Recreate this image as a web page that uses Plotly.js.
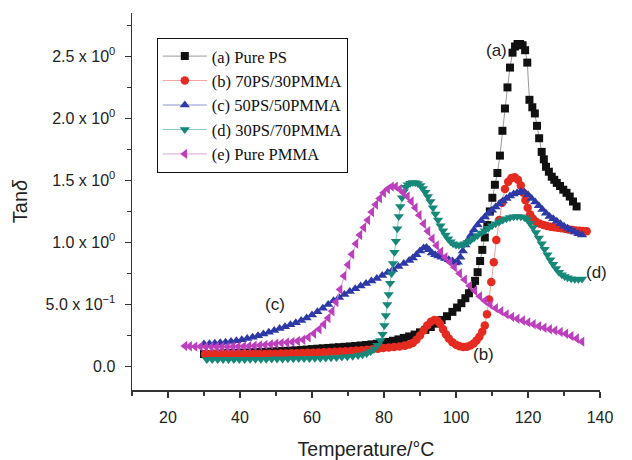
<!DOCTYPE html>
<html>
<head>
<meta charset="utf-8">
<script src="https://cdn.plot.ly/plotly-3.0.1.min.js"></script>
<style>html,body{margin:0;padding:0;background:#fff;}#chart{width:632px;height:460px;}</style>
</head>
<body>
<div id="chart"></div>
<script>
// Series names
const seriesNames = ["(a) Pure PS", "(b) 70PS/30PMMA", "(c) 50PS/50PMMA", "(d) 30PS/70PMMA", "(e) Pure PMMA"];

// [temperature °C, tan delta]
const purePS = [[30,0.10],[31.5,0.10],[33,0.103],[34.5,0.105],[36,0.107],[37.5,0.108],[39,0.11],[40.5,0.112],[42,0.113],[43.5,0.115],[45,0.117],[46.5,0.118],[48,0.12],[49.5,0.122],[51,0.124],[52.5,0.126],[54,0.128],[55.5,0.13],[57,0.133],[58.5,0.136],[60,0.14],[61.5,0.143],[63,0.146],[64.5,0.149],[66,0.152],[67.5,0.155],[69,0.158],[70.5,0.161],[72,0.165],[73.5,0.169],[75,0.173],[76.5,0.178],[78,0.183],[79.5,0.19],[81,0.198],[82.5,0.207],[84,0.218],[85.5,0.23],[87,0.242],[88.5,0.257],[90,0.275],[91.5,0.295],[93,0.318],[94.5,0.345],[96,0.375],[97.5,0.405],[99,0.44],[100.3,0.475],[101.5,0.51],[102.6,0.55],[103.6,0.59],[104.5,0.635],[105.3,0.69],[106,0.76],[106.7,0.85],[107.3,0.94],[108,1.04],[108.7,1.14],[109.4,1.25],[110.1,1.36],[110.8,1.465],[111.5,1.56],[112.2,1.70],[112.9,1.9],[113.6,2.08],[114.3,2.25],[115,2.41],[115.7,2.53],[116.4,2.58],[117.1,2.6],[117.8,2.6],[118.5,2.59],[119.2,2.55],[119.8,2.45],[120.4,2.15],[121.2,2.09],[121.9,2.04],[122.5,1.94],[123.1,1.84],[123.8,1.73],[124.4,1.67],[125,1.61],[125.8,1.57],[126.6,1.53],[127.3,1.505],[128,1.48],[128.9,1.455],[129.8,1.425],[130.7,1.40],[131.6,1.37],[132.5,1.33],[133.5,1.29]];

const ps70pmma30 = [[30.3,0.10],[31.8,0.10],[33.3,0.10],[34.8,0.10],[36.3,0.10],[37.8,0.10],[39.3,0.10],[40.8,0.10],[42.3,0.10],[43.8,0.10],[45.3,0.10],[46.8,0.101],[48.3,0.102],[49.8,0.103],[51.3,0.104],[52.8,0.105],[54.3,0.106],[55.8,0.107],[57.3,0.108],[58.8,0.11],[60.3,0.111],[61.8,0.113],[63.3,0.115],[64.8,0.117],[66.3,0.119],[67.8,0.121],[69.3,0.123],[70.8,0.125],[72.3,0.128],[73.8,0.131],[75.3,0.135],[76.8,0.139],[78.3,0.143],[79.8,0.148],[81.3,0.152],[82.8,0.156],[84.3,0.16],[85.8,0.166],[87,0.176],[88,0.19],[89,0.215],[90,0.25],[91,0.29],[92,0.33],[93,0.36],[94,0.375],[94.8,0.37],[95.6,0.345],[96.4,0.30],[97.2,0.26],[98,0.225],[99,0.195],[100,0.175],[101,0.162],[102,0.157],[103,0.158],[104,0.168],[104.9,0.185],[105.7,0.21],[106.5,0.24],[107.3,0.28],[108,0.33],[108.6,0.42],[109.2,0.54],[109.8,0.68],[110.5,0.84],[111.2,1.02],[112,1.18],[112.8,1.32],[113.6,1.43],[114.5,1.49],[115.4,1.52],[116.3,1.525],[117.2,1.505],[118,1.46],[118.7,1.40],[119.3,1.34],[119.9,1.28],[120.6,1.225],[121.4,1.19],[122.3,1.165],[123.3,1.15],[124.3,1.14],[125.3,1.133],[126.3,1.127],[127.3,1.122],[128.3,1.118],[129.3,1.114],[130.3,1.11],[131.3,1.105],[132.3,1.10],[133.3,1.097],[134.3,1.094],[135.3,1.092],[136.3,1.09]];

const ps50pmma50 = [[30,0.18],[31.5,0.183],[33,0.187],[34.5,0.191],[36,0.196],[37.5,0.201],[39,0.207],[40.5,0.215],[42,0.225],[43.5,0.236],[45,0.248],[46.5,0.261],[48,0.275],[49.5,0.29],[51,0.305],[52.5,0.32],[54,0.336],[55.5,0.352],[57,0.37],[58.5,0.39],[60,0.415],[61.5,0.44],[63,0.47],[64.5,0.50],[66,0.53],[67.5,0.555],[69,0.58],[70.5,0.605],[72,0.627],[73.5,0.648],[75,0.668],[76.5,0.688],[78,0.71],[79.5,0.733],[81,0.758],[82.5,0.782],[84,0.805],[85.5,0.83],[87,0.855],[88,0.875],[89,0.9],[90,0.93],[91,0.955],[91.8,0.96],[92.5,0.94],[93.3,0.915],[94.2,0.9],[95.1,0.89],[96,0.88],[97,0.87],[98,0.86],[99,0.85],[99.8,0.835],[100.5,0.84],[101.2,0.88],[101.9,0.93],[102.6,0.98],[103.4,1.02],[104.2,1.06],[105,1.10],[106,1.14],[107,1.175],[108,1.205],[109,1.235],[110,1.26],[111,1.285],[112,1.31],[113,1.335],[114,1.355],[115,1.375],[116,1.39],[117,1.40],[118,1.41],[119,1.405],[120,1.385],[121,1.355],[122,1.325],[123,1.295],[124,1.265],[125,1.235],[126,1.21],[127,1.19],[128,1.17],[129,1.15],[130,1.13],[131,1.115],[132,1.10],[133,1.085],[134,1.07],[135,1.06]];

const ps30pmma70 = [[30.8,0.055],[32.3,0.055],[33.8,0.055],[35.3,0.055],[36.8,0.055],[38.3,0.055],[39.8,0.056],[41.3,0.056],[42.8,0.057],[44.3,0.057],[45.8,0.058],[47.3,0.058],[48.8,0.059],[50.3,0.06],[51.8,0.06],[53.3,0.061],[54.8,0.062],[56.3,0.063],[57.8,0.064],[59.3,0.065],[60.8,0.066],[62.3,0.067],[63.8,0.069],[65.3,0.071],[66.8,0.073],[68.3,0.076],[69.8,0.079],[71.3,0.083],[72.8,0.088],[74,0.095],[75.2,0.105],[76.3,0.12],[77.3,0.14],[78.2,0.17],[79,0.21],[79.6,0.26],[80.1,0.33],[80.5,0.41],[80.9,0.50],[81.3,0.58],[81.7,0.67],[82.1,0.75],[82.5,0.83],[82.9,0.92],[83.3,1.01],[83.7,1.11],[84.1,1.21],[84.5,1.29],[85,1.36],[85.5,1.41],[86,1.445],[86.6,1.465],[87.3,1.478],[88,1.483],[88.7,1.482],[89.4,1.475],[90.1,1.46],[90.8,1.435],[91.5,1.405],[92.2,1.37],[92.9,1.33],[93.6,1.28],[94.3,1.23],[95,1.18],[95.7,1.135],[96.4,1.095],[97.1,1.06],[97.8,1.03],[98.5,1.005],[99.2,0.99],[100,0.98],[100.8,0.978],[101.6,0.982],[102.4,0.99],[103.2,1.0],[104,1.015],[105,1.035],[106,1.055],[107,1.075],[108,1.095],[109,1.115],[110,1.135],[111,1.15],[112,1.165],[113,1.18],[114,1.19],[115,1.2],[116,1.207],[117,1.21],[118,1.208],[119,1.2],[119.8,1.185],[120.6,1.155],[121.4,1.12],[122.2,1.08],[123,1.035],[123.8,0.99],[124.6,0.945],[125.4,0.9],[126.2,0.86],[127,0.825],[127.8,0.79],[128.6,0.76],[129.4,0.74],[130.2,0.725],[131,0.715],[132,0.707],[133,0.703],[134,0.703],[135,0.705]];

const purePMMA = [[24.7,0.165],[26,0.163],[27.5,0.16],[29,0.16],[30.5,0.158],[32,0.158],[33.5,0.158],[35,0.158],[36.5,0.158],[38,0.159],[39.5,0.16],[41,0.162],[42.5,0.164],[44,0.167],[45.5,0.17],[47,0.174],[48.5,0.178],[50,0.183],[51.5,0.188],[53,0.193],[54.5,0.198],[56,0.205],[57.5,0.215],[59,0.235],[60.5,0.265],[62,0.30],[63.3,0.34],[64.5,0.39],[65.6,0.445],[66.7,0.52],[67.8,0.62],[68.9,0.73],[70,0.82],[71.1,0.905],[72.2,0.99],[73.3,1.06],[74.4,1.12],[75.5,1.18],[76.6,1.245],[77.7,1.305],[78.8,1.355],[79.9,1.40],[81,1.43],[82.1,1.45],[83.2,1.45],[84.3,1.43],[85.4,1.40],[86.5,1.37],[87.6,1.33],[88.7,1.28],[89.8,1.22],[91,1.15],[92.2,1.09],[93.4,1.03],[94.6,0.975],[95.8,0.925],[97,0.88],[98.3,0.84],[99.6,0.80],[101,0.75],[102.4,0.70],[103.8,0.65],[105.2,0.61],[106.6,0.565],[108,0.53],[109.5,0.50],[111,0.47],[112.5,0.445],[114,0.42],[115.5,0.40],[117,0.385],[118.5,0.37],[120,0.355],[121.5,0.34],[123,0.325],[124.5,0.312],[126,0.30],[127.5,0.29],[129,0.278],[130.5,0.263],[132,0.245],[133.5,0.225],[135,0.20]];

// Axis ticks
const xTickVals = [20, 40, 60, 80, 100, 120, 140];
const yTickVals = [0, 0.5, 1.0, 1.5, 2.0, 2.5];
const yTickText = ["0.0", "5.0 x 10<sup>\u22121</sup>", "1.0 x 10<sup>0</sup>", "1.5 x 10<sup>0</sup>", "2.0 x 10<sup>0</sup>", "2.5 x 10<sup>0</sup>"];

// Curve labels
const labelText = ["(a)", "(b)", "(c)", "(d)", "(e)"];
const labelX = [111.3, 107.6, 49.7, 139.1, 140.6];
const labelY = [2.55, 0.094, 0.50, 0.755, 0.256];

const allData = [purePS, ps70pmma30, ps50pmma50, ps30pmma70, purePMMA];
const markerColors = ["#111111", "#e52a1f", "#2c39a6", "#16887a", "#bd3fbd"];
const lineColors = ["#9a9a9a", "#f2a3a0", "#8c93d2", "#86c9c0", "#e0a2e0"];
const symbols = ["square", "circle", "triangle-up", "triangle-down", "triangle-left"];
const sizes = [8, 8.5, 9, 9, 9];

const traces = allData.map((d, i) => ({
  type: "scatter",
  mode: "lines+markers",
  name: seriesNames[i],
  x: d.map(p => p[0]),
  y: d.map(p => p[1]),
  line: {color: lineColors[i], width: 1},
  marker: {color: markerColors[i], symbol: symbols[i], size: sizes[i], line: {width: 0}}
}));

const annotations = labelText.map((t, i) => ({
  x: labelX[i], y: labelY[i], xref: "x", yref: "y", text: t, showarrow: false,
  font: {family: "Liberation Sans, Arial, sans-serif", size: 17, color: "#222"}
}));

const sansFont = "Liberation Sans, Arial, sans-serif";

const layout = {
  width: 632, height: 460,
  margin: {l: 132, r: 32, t: 13, b: 70},
  paper_bgcolor: "#ffffff", plot_bgcolor: "#ffffff",
  showlegend: true,
  legend: {
    x: 0.053, y: 0.934, xanchor: "left", yanchor: "top",
    bordercolor: "#111", borderwidth: 1, bgcolor: "#ffffff",
    font: {family: "Liberation Serif, Times New Roman, serif", size: 16.5, color: "#111"},
    tracegroupgap: 0, itemwidth: 44
  },
  xaxis: {
    range: [10, 140], showgrid: false, zeroline: false,
    showline: true, linecolor: "#333", linewidth: 1.5,
    ticks: "outside", ticklen: 6, tickcolor: "#333", tickwidth: 1.5,
    tickmode: "array", tickvals: xTickVals,
    minor: {tickmode: "linear", tick0: 10, dtick: 10, ticks: "outside", ticklen: 4, tickcolor: "#333", showgrid: false},
    tickfont: {family: sansFont, size: 16, color: "#222"},
    ticklabelstandoff: 6,
    title: {text: "Temperature/°C", font: {family: sansFont, size: 19.5, color: "#222"}, standoff: 18}
  },
  yaxis: {
    range: [-0.19, 2.85], showgrid: false, zeroline: false,
    showline: true, linecolor: "#333", linewidth: 1.5,
    ticks: "outside", ticklen: 6, tickcolor: "#333", tickwidth: 1.5,
    tickmode: "array", tickvals: yTickVals, ticktext: yTickText,
    minor: {tickmode: "linear", tick0: 0, dtick: 0.25, ticks: "outside", ticklen: 4, tickcolor: "#333", showgrid: false},
    tickfont: {family: sansFont, size: 16, color: "#222"},
    ticklabelstandoff: 6,
    title: {text: "Tan<i>δ</i>", font: {family: sansFont, size: 20, color: "#222"}, standoff: 12}
  },
  annotations: annotations
};

Plotly.newPlot("chart", traces, layout, {displayModeBar: false, staticPlot: true});
</script>
</body>
</html>
